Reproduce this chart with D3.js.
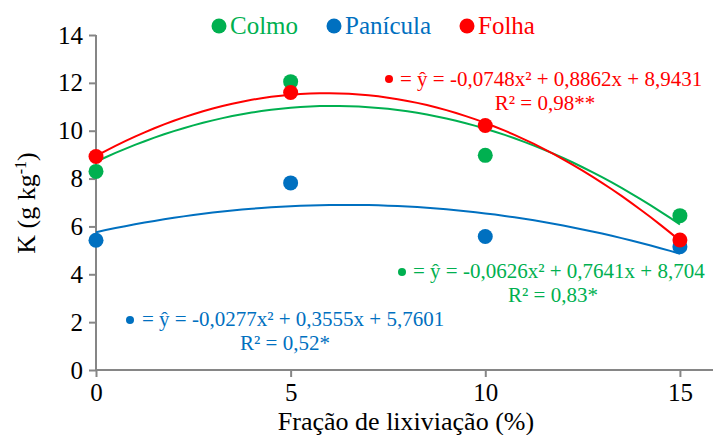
<!DOCTYPE html>
<meta charset="utf-8">
<script src="https://d3js.org/d3.v7.min.js"></script>
<style>
    body { margin: 0; background: #fff; }
</style>
<div id="chart"></div>
<script>
    // data
    var doses = [0, 5, 10, 15];
    var seriesNames = ["Colmo", "Panícula", "Folha"];
    var colors = ["#00B050", "#0070C0", "#FF0000"];
    var colmo = [8.3, 12.05, 8.97, 6.45];
    var panicula = [5.42, 7.82, 5.58, 5.15];
    var folha = [8.92, 11.6, 10.22, 5.43];
    // quadratic trend coefficients [a, b, c] for y = a x^2 + b x + c
    var trendColmo = [-0.0626, 0.7641, 8.704];
    var trendPanicula = [-0.0277, 0.3555, 5.7601];
    var trendFolha = [-0.0748, 0.8862, 8.9431];
    var eqLabels = [
        ["= ŷ = -0,0626x² + 0,7641x + 8,704", "R² = 0,83*"],
        ["= ŷ = -0,0277x² + 0,3555x + 5,7601", "R² = 0,52*"],
        ["= ŷ = -0,0748x² + 0,8862x + 8,9431", "R² = 0,98**"]
    ];
    var xTicks = [0, 5, 10, 15];
    var yTicks = [0, 2, 4, 6, 8, 10, 12, 14];

    var values = [colmo, panicula, folha];
    var trends = [trendColmo, trendPanicula, trendFolha];
    var FONT = "Liberation Serif";

    var W = 715, H = 435;
    var svg = d3.select("#chart").append("svg")
        .attr("width", W).attr("height", H)
        .attr("font-family", FONT);

    var x = d3.scaleLinear().domain([0, 15.85]).range([96, 713]);
    var y = d3.scaleLinear().domain([0, 14]).range([370, 35]);

    // axes
    var xAxis = svg.append("g")
        .attr("transform", "translate(0," + y(0) + ")")
        .call(d3.axisBottom(x).tickValues(xTicks).tickSize(7).tickPadding(6).tickFormat(d3.format("d")));
    var yAxis = svg.append("g")
        .attr("transform", "translate(" + x(0) + ",0)")
        .call(d3.axisLeft(y).tickValues(yTicks).tickSize(7).tickPadding(6).tickFormat(d3.format("d")));
    [xAxis, yAxis].forEach(function(a) {
        a.attr("font-family", FONT).attr("font-size", 25);
        a.select(".domain").attr("stroke", "#868686").attr("stroke-width", 2);
        a.selectAll(".tick line").attr("stroke", "#868686").attr("stroke-width", 2);
        a.selectAll(".tick text").attr("fill", "#000");
    });
    // domain lines without end caps
    xAxis.select(".domain").attr("d", "M" + x(0) + ",0H" + x(15.85));
    yAxis.select(".domain").attr("d", "M0," + y(0) + "V" + y(14));

    // trend curves
    var samples = d3.range(0, 15.01, 0.25);
    var line = d3.line().x(function(d) { return x(d[0]); }).y(function(d) { return y(d[1]); });
    trends.forEach(function(c, i) {
        svg.append("path")
            .datum(samples.map(function(t) { return [t, c[0] * t * t + c[1] * t + c[2]]; }))
            .attr("d", line)
            .attr("fill", "none")
            .attr("stroke", colors[i])
            .attr("stroke-width", 2);
    });

    // points
    values.forEach(function(v, i) {
        svg.selectAll(null)
            .data(v)
            .enter()
            .append("circle")
            .attr("cx", function(d, j) { return x(doses[j]); })
            .attr("cy", function(d) { return y(d); })
            .attr("r", 7.5)
            .attr("fill", colors[i]);
    });

    // legend
    var legendX = [219, 334, 467];
    seriesNames.forEach(function(n, i) {
        svg.append("circle").attr("cx", legendX[i]).attr("cy", 26).attr("r", 7.5).attr("fill", colors[i]);
        svg.append("text").attr("x", legendX[i] + 11).attr("y", 34)
            .attr("fill", colors[i]).attr("font-size", 25).text(n);
    });

    // equations
    var eqPos = [
        { bx: 402, by: 272, x: 413, y: 278, rx: 553, ry: 302 },
        { bx: 130, by: 320, x: 142, y: 326, rx: 285, ry: 350 },
        { bx: 389, by: 79, x: 400, y: 86, rx: 545, ry: 110 }
    ];
    eqLabels.forEach(function(e, i) {
        var p = eqPos[i];
        svg.append("circle").attr("cx", p.bx).attr("cy", p.by).attr("r", 4).attr("fill", colors[i]);
        svg.append("text").attr("x", p.x).attr("y", p.y).attr("fill", colors[i])
            .attr("font-size", 21).text(e[0]);
        svg.append("text").attr("x", p.rx).attr("y", p.ry).attr("fill", colors[i])
            .attr("text-anchor", "middle").attr("font-size", 21).text(e[1]);
    });

    // axis titles
    svg.append("text").attr("x", 406).attr("y", 430).attr("text-anchor", "middle")
        .attr("font-size", 26).text("Fração de lixiviação (%)");
    var yt = svg.append("text")
        .attr("transform", "translate(35,203) rotate(-90)")
        .attr("text-anchor", "middle")
        .attr("font-size", 26);
    yt.append("tspan").text("K (g kg");
    yt.append("tspan").attr("dy", -9).attr("font-size", 16).text("-1");
    yt.append("tspan").attr("dy", 9).text(")");
</script>
